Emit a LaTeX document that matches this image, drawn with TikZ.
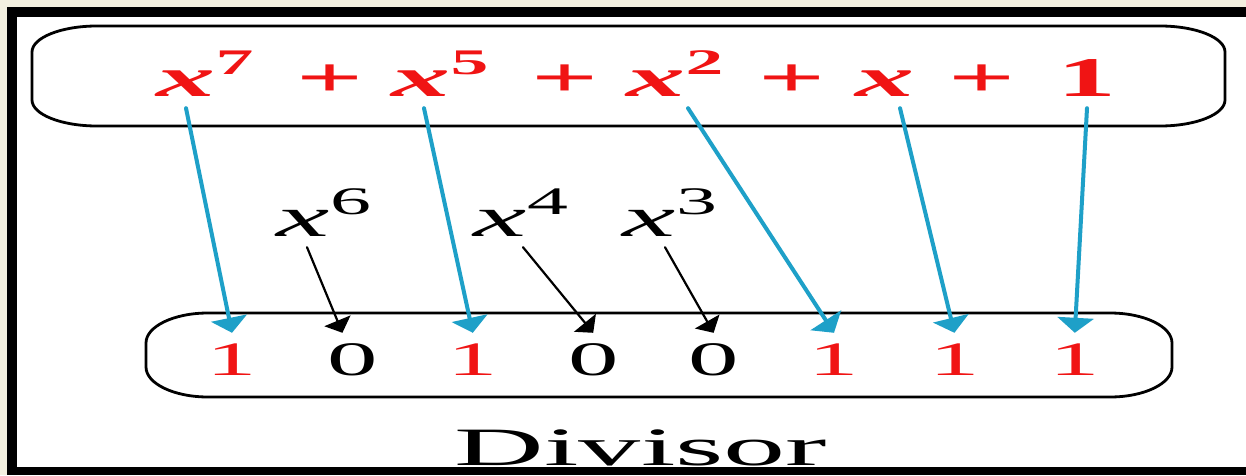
\documentclass[tikz,border=0pt]{standalone}
\usepackage{fontspec}
\setmainfont{Liberation Serif}[FakeStretch=2.1]
\newfontfamily\capfont{Liberation Serif}[FakeStretch=2.3]
\usetikzlibrary{arrows.meta}
\definecolor{polyred}{RGB}{240,20,20}
\definecolor{linkblue}{RGB}{30,160,200}
\definecolor{paper}{RGB}{243,240,224}
\newcommand\xpow[2][36]{{\itshape x}\raisebox{22pt}{\fontsize{#1}{#1}\selectfont #2}}

\begin{document}
\begin{tikzpicture}[x=1pt,y=1pt,line cap=round,line join=round]
  \tikzset{
    term/.style={text=polyred,font=\fontsize{56}{60}\selectfont\bfseries,anchor=base,
      inner xsep=0pt,inner ysep=11pt,text depth=0pt},
    bit/.style={font=\fontsize{48}{50}\selectfont,anchor=base,
      inner xsep=0pt,inner ysep=9pt,text height=33pt,text depth=0pt},
    misslabel/.style={font=\fontsize{57}{60}\selectfont,anchor=base,
      inner xsep=0pt,inner ysep=11pt,text depth=0pt},
    caption/.style={font=\capfont\fontsize{54}{58}\selectfont,anchor=base,inner sep=0pt},
    bluearrow/.style={-{Triangle[width=36pt,length=15pt]},draw=linkblue,line width=4pt},
    blackarrow/.style={-{Triangle[width=28pt,length=13pt]},line width=2.2pt},
    boxline/.style={line width=2.8pt},
  }
  \useasboundingbox (0,0) rectangle (1246,475);

  % ==================== frame ====================
  \fill[paper] (0,0) rectangle (1246,475);
  \fill[white] (17,8) rectangle (1246,458);
  \fill[black] (7,0) rectangle (17,468);
  \fill[black] (17,458) rectangle (1246,468);
  \fill[black] (17,0) rectangle (1246,8);

  % ==================== polynomial box ====================
  \def\rx{65}\def\ry{26}
  \draw[boxline] (32+\rx,449) -- (1225-\rx,449)
    arc[start angle=90,end angle=0,x radius=\rx,y radius=\ry] -- (1225,349+\ry)
    arc[start angle=0,end angle=-90,x radius=\rx,y radius=\ry] -- (32+\rx,349)
    arc[start angle=270,end angle=180,x radius=\rx,y radius=\ry] -- (32,449-\ry)
    arc[start angle=180,end angle=90,x radius=\rx,y radius=\ry] -- cycle;

  \node[term] (t7) at (205,378) {\xpow{7}};
  \node[term] (plusa) at (330,378) {+};
  \node[term] (t5) at (440,378) {\xpow{5}};
  \node[term] (plusb) at (565,378) {+};
  \node[term] (t2) at (675,378) {\xpow{2}};
  \node[term] (plusc) at (792,378) {+};
  \node[term] (t1) at (885,378) {\itshape x};
  \node[term] (plusd) at (982,378) {+};
  \node[term] (t0) at (1087,378) {1};

  % ==================== divisor box ====================
  \def\rx{62}\def\ry{30}
  \draw[boxline] (146+\rx,162) -- (1172-\rx,162)
    arc[start angle=90,end angle=0,x radius=\rx,y radius=\ry] -- (1172,78+\ry)
    arc[start angle=0,end angle=-90,x radius=\rx,y radius=\ry] -- (146+\rx,78)
    arc[start angle=270,end angle=180,x radius=\rx,y radius=\ry] -- (146,162-\ry)
    arc[start angle=180,end angle=90,x radius=\rx,y radius=\ry] -- cycle;

  \foreach \bit/\col [count=\i] in {1/polyred,0/black,1/polyred,0/black,0/black,1/polyred,1/polyred,1/polyred}
    \node[bit,text=\col] (d\i) at ({232+120.4*(\i-1)},100) {\bit};

  % missing powers
  \node[misslabel] (m6) at (324,239) {\xpow[39]{6}};
  \node[misslabel] (m4) at (521,239) {\xpow[39]{4}};
  \node[misslabel] (m3) at (670,239) {\xpow[39]{3}};

  % ==================== arrows ====================
  \draw[bluearrow] ([xshift=-19pt]t7.south) -- (d1.north);
  \draw[bluearrow] ([xshift=-16pt]t5.south) -- (d3.north);
  \draw[bluearrow] ([xshift=13pt]t2.south) -- (d6.north);
  \draw[bluearrow] ([xshift=15pt]t1.south) -- (d7.north);
  \draw[bluearrow] (t0.south) -- (d8.north);

  \draw[blackarrow] ([xshift=-17pt]m6.south) -- ([xshift=-10pt]d2.north);
  \draw[blackarrow] ([xshift=2pt]m4.south) -- (d4.north);
  \draw[blackarrow] ([xshift=-5pt]m3.south) -- (d5.north);

  \node[caption] (cap) at (641,10) {Divisor};
\end{tikzpicture}
\end{document}
